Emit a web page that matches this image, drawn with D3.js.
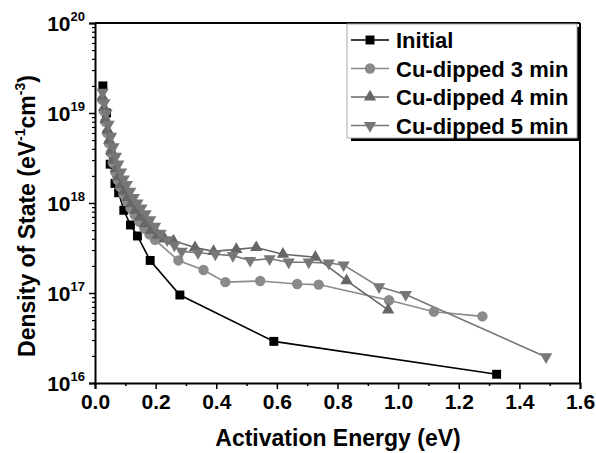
<!DOCTYPE html>
<html>
<head>
<meta charset="utf-8">
<script src="https://cdn.jsdelivr.net/npm/d3@7"></script>
<style>
  body { margin: 0; background: #fff; }
  text { font-family: "Liberation Sans", Arial, sans-serif; font-weight: bold; }
</style>
</head>
<body>
<div id="chart"></div>
<script>
// x = activation energy (eV), y = density of state (eV^-1 cm^-3)
const initialData = [
  [0.026, 2.0e19], [0.038, 1.0e19], [0.05, 2.7e18], [0.066, 1.65e18], [0.078, 1.3e18],
  [0.095, 8.3e17], [0.117, 5.7e17], [0.14, 4.3e17], [0.182, 2.3e17], [0.28, 9.5e16],
  [0.59, 2.9e16], [1.325, 1.25e16]
];
const dip3Data = [
  [0.024, 1.4e19], [0.029, 1.05e19], [0.034, 8e18], [0.04, 6e18], [0.046, 4.6e18],
  [0.052, 3.6e18], [0.059, 2.8e18], [0.067, 2.2e18], [0.075, 1.8e18], [0.084, 1.5e18],
  [0.094, 1.25e18], [0.105, 1.05e18], [0.117, 8.8e17], [0.131, 7.4e17], [0.146, 6.2e17],
  [0.163, 5.2e17], [0.18, 4.5e17], [0.198, 3.9e17], [0.275, 2.3e17], [0.358, 1.8e17],
  [0.43, 1.32e17], [0.545, 1.36e17], [0.667, 1.26e17], [0.738, 1.24e17], [0.97, 8.3e16],
  [1.118, 6.2e16], [1.278, 5.5e16]
];
const dip4Data = [
  [0.025, 1.5e19], [0.03, 1.15e19], [0.035, 8.5e18], [0.041, 6.5e18], [0.047, 5e18],
  [0.054, 3.8e18], [0.061, 3e18], [0.069, 2.4e18], [0.077, 1.95e18], [0.086, 1.6e18],
  [0.096, 1.35e18], [0.107, 1.15e18], [0.119, 9.8e17], [0.133, 8.3e17], [0.148, 7e17],
  [0.165, 5.9e17], [0.185, 5e17], [0.207, 4.4e17], [0.23, 4e17], [0.259, 3.8e17],
  [0.33, 3.2e17], [0.391, 2.9e17], [0.466, 3.05e17], [0.532, 3.2e17], [0.62, 2.7e17],
  [0.727, 2.5e17], [0.83, 1.37e17], [0.967, 6.5e16]
];
const dip5Data = [
  [0.025, 1.7e19], [0.031, 1.3e19], [0.038, 1.0e19], [0.045, 7.5e18], [0.053, 5.5e18],
  [0.061, 4.2e18], [0.069, 3.3e18], [0.077, 2.7e18], [0.086, 2.2e18], [0.095, 1.85e18],
  [0.105, 1.6e18], [0.116, 1.35e18], [0.128, 1.15e18], [0.14, 1.0e18], [0.153, 8.8e17],
  [0.167, 7.6e17], [0.182, 6.5e17], [0.198, 5.5e17], [0.216, 4.6e17], [0.238, 3.9e17],
  [0.262, 3.4e17], [0.286, 2.9e17], [0.34, 2.8e17], [0.397, 2.7e17], [0.455, 2.6e17],
  [0.512, 2.3e17], [0.576, 2.4e17], [0.639, 2.2e17], [0.705, 2.2e17], [0.771, 2.15e17],
  [0.82, 2.05e17], [0.937, 1.17e17], [1.025, 9.6e16], [1.488, 1.95e16]
];

const xTicks = [0, 0.2, 0.4, 0.6, 0.8, 1.0, 1.2, 1.4, 1.6];
const yExponents = [16, 17, 18, 19, 20];

const series = [
  { name: "Initial", values: initialData, color: "#000000", symbol: d3.symbolSquare, size: 80, rot: 0 },
  { name: "Cu-dipped 3 min", values: dip3Data, color: "#8a8a8a", symbol: d3.symbolCircle, size: 85, rot: 0 },
  { name: "Cu-dipped 4 min", values: dip4Data, color: "#666666", symbol: d3.symbolTriangle, size: 66, rot: 0 },
  { name: "Cu-dipped 5 min", values: dip5Data, color: "#777777", symbol: d3.symbolTriangle, size: 66, rot: 180 }
];

const margin = { top: 23, right: 16, bottom: 70, left: 95 },
  width = 596 - margin.left - margin.right,
  height = 453 - margin.top - margin.bottom;

const svg = d3
  .select("#chart")
  .append("svg")
  .attr("width", 596)
  .attr("height", 453);

const g = svg.append("g").attr("transform", `translate(${margin.left},${margin.top})`);

const x = d3.scaleLinear().domain([0, 1.6]).range([0, width]);
const y = d3.scaleLog().domain([1e16, 1e20]).range([height, 0]);

// minor ticks
const xMinor = d3.range(0.1, 1.6, 0.2);
g.append("g")
  .attr("transform", `translate(0,${height})`)
  .call(d3.axisBottom(x).tickValues(xMinor).tickSize(3).tickFormat(""))
  .call((s) => s.select(".domain").remove())
  .selectAll("line").attr("stroke-width", 1.5);

const yMinor = [];
yExponents.slice(0, -1).forEach((e) => {
  for (let k = 2; k <= 9; k++) yMinor.push(k * Math.pow(10, e));
});
g.append("g")
  .call(d3.axisLeft(y).tickValues(yMinor).tickSize(3).tickFormat(""))
  .call((s) => s.select(".domain").remove())
  .selectAll("line").attr("stroke-width", 1.2);

// major x axis
const xAxis = g.append("g")
  .attr("transform", `translate(0,${height})`)
  .call(d3.axisBottom(x).tickValues(xTicks).tickSize(6).tickPadding(5).tickFormat(d3.format(".1f")));
xAxis.select(".domain").attr("stroke-width", 2);
xAxis.selectAll("line").attr("stroke-width", 1.5);
xAxis.selectAll("text").style("font-size", "21px").attr("fill", "#000");

// major y axis
const yAxis = g.append("g")
  .call(d3.axisLeft(y).tickValues(yExponents.map((e) => Math.pow(10, e))).tickSize(6).tickFormat(""));
yAxis.select(".domain").attr("stroke-width", 2);
yAxis.selectAll("line").attr("stroke-width", 1.5);

yExponents.forEach((e) => {
  const t = g.append("text")
    .attr("x", -10)
    .attr("y", y(Math.pow(10, e)) + 8)
    .attr("text-anchor", "end")
    .attr("fill", "#000");
  t.append("tspan").style("font-size", "21px").text("10");
  t.append("tspan").attr("dy", -10).style("font-size", "13px").text(e);
});

// frame top/right
g.append("line").attr("x1", 0).attr("x2", width).attr("y1", 0).attr("y2", 0)
  .attr("stroke", "#000").attr("stroke-width", 2);
g.append("line").attr("x1", width).attr("x2", width).attr("y1", 0).attr("y2", height)
  .attr("stroke", "#000").attr("stroke-width", 2);

// lines + markers
const line = d3.line().x((d) => x(d[0])).y((d) => y(d[1]));

series.forEach((s) => {
  g.append("path")
    .datum(s.values)
    .attr("d", line)
    .attr("fill", "none")
    .attr("stroke", s.color)
    .attr("stroke-width", 1.6);
});
series.forEach((s) => {
  g.append("g")
    .selectAll("path")
    .data(s.values)
    .join("path")
    .attr("d", d3.symbol().type(s.symbol).size(s.size))
    .attr("transform", (d) => `translate(${x(d[0])},${y(d[1])}) rotate(${s.rot})`)
    .attr("fill", s.color);
});

// axis titles
svg.append("text")
  .attr("x", 338)
  .attr("y", 446)
  .attr("text-anchor", "middle")
  .style("font-size", "23px")
  .text("Activation Energy (eV)");

const yTitle = svg.append("text")
  .attr("transform", `translate(35,216) rotate(-90)`)
  .attr("text-anchor", "middle")
  .style("font-size", "23px");
yTitle.append("tspan").text("Density of State (eV");
yTitle.append("tspan").attr("dy", -10).style("font-size", "14px").text("-1");
yTitle.append("tspan").attr("dy", 10).text("cm");
yTitle.append("tspan").attr("dy", -10).style("font-size", "14px").text("-3");
yTitle.append("tspan").attr("dy", 10).text(")");

// legend
const lg = svg.append("g").attr("transform", "translate(347,24)");
const lgW = 230, lgH = 114;
lg.append("rect").attr("x", 4).attr("y", 3).attr("width", lgW).attr("height", lgH).attr("fill", "#000");
lg.append("rect").attr("x", 0).attr("y", 0).attr("width", lgW).attr("height", lgH)
  .attr("fill", "#fff").attr("stroke", "#aaa").attr("stroke-width", 1);

series.forEach((s, i) => {
  const row = lg.append("g").attr("transform", `translate(0,${16 + i * 28.5})`);
  row.append("line").attr("x1", 4).attr("x2", 42).attr("y1", 0).attr("y2", 0)
    .attr("stroke", s.color).attr("stroke-width", 1.6);
  row.append("path")
    .attr("d", d3.symbol().type(s.symbol).size(s.size))
    .attr("transform", `translate(23,0) rotate(${s.rot})`)
    .attr("fill", s.color);
  row.append("text").attr("x", 49).attr("y", 8).style("font-size", "22px").text(s.name);
});
</script>
</body>
</html>
